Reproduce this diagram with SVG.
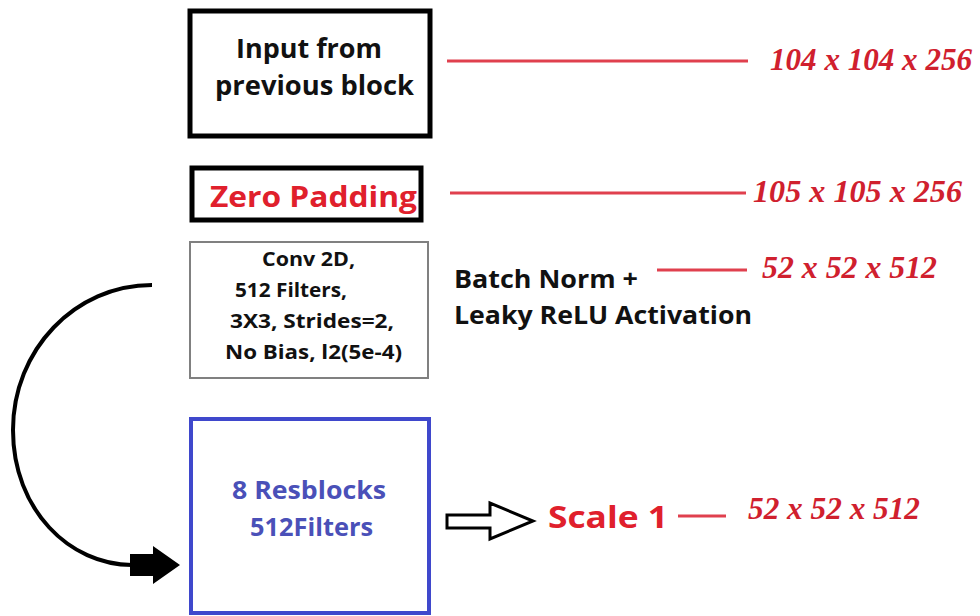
<svg xmlns="http://www.w3.org/2000/svg" width="980" height="616" viewBox="0 0 980 616">
<style>
.lbl{font-family:"Open Sans","Liberation Sans",sans-serif;font-weight:bold;fill:#111}
.red{fill:#e0202c}
.blue{fill:#4a50b8}
.dim{font-family:"Liberation Serif","Times New Roman",serif;font-weight:bold;font-style:italic;fill:#d0202e;font-size:31px}
.lead{stroke:#e0404e;stroke-width:3;fill:none}
</style>
<rect width="980" height="616" fill="#fff"/>
<g id="input">
<rect x="190" y="11" width="240" height="125" fill="#fff" stroke="#000" stroke-width="5"/>
<text class="lbl" x="236" y="58" font-size="26" textLength="146" lengthAdjust="spacingAndGlyphs">Input from</text>
<text class="lbl" x="215" y="95" font-size="26" textLength="199" lengthAdjust="spacingAndGlyphs">previous block</text>
</g>
<g id="zeropad">
<rect x="192" y="168" width="229" height="52" fill="#fff" stroke="#000" stroke-width="5"/>
<text class="lbl red" x="210" y="207" font-size="28" textLength="207" lengthAdjust="spacingAndGlyphs">Zero Padding</text>
</g>
<g id="conv">
<rect x="190" y="242" width="238" height="136" fill="#fff" stroke="#808080" stroke-width="2"/>
<text class="lbl" font-size="20" x="262" y="266" textLength="93" lengthAdjust="spacingAndGlyphs">Conv 2D,</text>
<text class="lbl" font-size="20" x="235" y="297" textLength="112" lengthAdjust="spacingAndGlyphs">512 Filters,</text>
<text class="lbl" font-size="20" x="230" y="328" textLength="164" lengthAdjust="spacingAndGlyphs">3X3, Strides=2,</text>
<text class="lbl" font-size="20" x="225" y="359" textLength="177" lengthAdjust="spacingAndGlyphs">No Bias, l2(5e-4)</text>
</g>
<g id="bn">
<text class="lbl" font-size="25" x="454" y="288" textLength="184" lengthAdjust="spacingAndGlyphs">Batch Norm +</text>
<text class="lbl" font-size="25" x="454" y="324" textLength="298" lengthAdjust="spacingAndGlyphs">Leaky ReLU Activation</text>
</g>
<g id="resblocks">
<rect x="191" y="419" width="238" height="194" fill="#fff" stroke="#3f48cc" stroke-width="4"/>
<text class="lbl blue" font-size="25" x="232" y="499" textLength="154" lengthAdjust="spacingAndGlyphs">8 Resblocks</text>
<text class="lbl blue" font-size="25" x="250" y="536" textLength="123" lengthAdjust="spacingAndGlyphs">512Filters</text>
</g>
<g id="scale1">
<text class="lbl red" font-size="31" x="548" y="528" textLength="120" lengthAdjust="spacingAndGlyphs">Scale 1</text>
</g>
<g id="dims">
<text class="dim" x="770" y="70" textLength="202" lengthAdjust="spacingAndGlyphs">104 x 104 x 256</text>
<text class="dim" x="753" y="202" textLength="209" lengthAdjust="spacingAndGlyphs">105 x 105 x 256</text>
<text class="dim" x="762" y="278" textLength="175" lengthAdjust="spacingAndGlyphs">52 x 52 x 512</text>
<text class="dim" x="748" y="519" textLength="172" lengthAdjust="spacingAndGlyphs">52 x 52 x 512</text>
</g>
<g id="connectors">
<line class="lead" x1="447" y1="61" x2="748" y2="61"/>
<line class="lead" x1="450" y1="193" x2="746" y2="193"/>
<line class="lead" x1="657" y1="270" x2="747" y2="270"/>
<line class="lead" x1="678" y1="516" x2="726" y2="516"/>
<path d="M152,285 C75,285 13,350 13,430 C13,510 70,565 132,565" fill="none" stroke="#000" stroke-width="4"/>
<polygon points="130,554 153,554 153,546 180,565 153,584 153,576 130,576" fill="#000"/>
<polygon points="447,515 490,515 490,503 533,521 490,539 490,528 447,528" fill="#fff" stroke="#000" stroke-width="3"/>
</g>
</svg>
